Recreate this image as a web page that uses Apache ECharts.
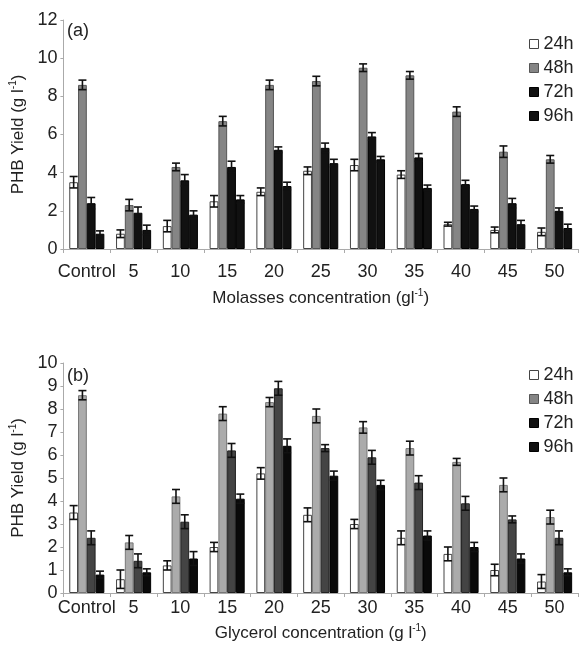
<!DOCTYPE html>
<html>
<head>
<meta charset="utf-8">
<script src="https://cdn.jsdelivr.net/npm/echarts@6/dist/echarts.min.js"></script>
<style>
  html, body { margin: 0; padding: 0; background: #fff; }
  #chart { width: 579px; height: 646px; }
</style>
</head>
<body>
<div id="chart"></div>
<script>
// Concentration levels on the x axis (g/l)
const categories = ['Control', '5', '10', '15', '20', '25', '30', '35', '40', '45', '50'];
const seriesNames = ['24h', '48h', '72h', '96h'];

// (a) PHB yield on molasses, g/l
const molasses24 = [3.5, 0.8, 1.2, 2.5, 3.0, 4.1, 4.4, 3.9, 1.3, 1.0, 0.9];
const molasses48 = [8.6, 2.3, 4.3, 6.7, 8.6, 8.8, 9.5, 9.1, 7.2, 5.1, 4.7];
const molasses72 = [2.4, 1.9, 3.6, 4.3, 5.2, 5.3, 5.9, 4.8, 3.4, 2.4, 2.0];
const molasses96 = [0.8, 1.0, 1.8, 2.6, 3.3, 4.5, 4.7, 3.2, 2.1, 1.3, 1.1];
// (a) standard deviations
const molassesErr24 = [0.3, 0.2, 0.3, 0.3, 0.2, 0.2, 0.3, 0.2, 0.1, 0.15, 0.2];
const molassesErr48 = [0.25, 0.3, 0.2, 0.25, 0.25, 0.25, 0.2, 0.2, 0.25, 0.3, 0.2];
const molassesErr72 = [0.3, 0.3, 0.3, 0.3, 0.15, 0.25, 0.2, 0.2, 0.2, 0.25, 0.15];
const molassesErr96 = [0.15, 0.25, 0.2, 0.2, 0.2, 0.2, 0.15, 0.15, 0.15, 0.2, 0.2];

// (b) PHB yield on glycerol, g/l
const glycerol24 = [3.5, 0.6, 1.2, 2.0, 5.2, 3.4, 3.0, 2.4, 1.7, 1.0, 0.5];
const glycerol48 = [8.6, 2.2, 4.2, 7.8, 8.3, 7.7, 7.2, 6.3, 5.7, 4.7, 3.3];
const glycerol72 = [2.4, 1.4, 3.1, 6.2, 8.9, 6.3, 5.9, 4.8, 3.9, 3.2, 2.4];
const glycerol96 = [0.8, 0.9, 1.5, 4.1, 6.4, 5.1, 4.7, 2.5, 2.0, 1.5, 0.9];
// (b) standard deviations
const glycerolErr24 = [0.3, 0.4, 0.2, 0.2, 0.25, 0.3, 0.2, 0.3, 0.3, 0.25, 0.3];
const glycerolErr48 = [0.2, 0.3, 0.3, 0.3, 0.2, 0.3, 0.25, 0.3, 0.15, 0.3, 0.3];
const glycerolErr72 = [0.3, 0.3, 0.3, 0.3, 0.3, 0.15, 0.3, 0.3, 0.3, 0.15, 0.3];
const glycerolErr96 = [0.15, 0.15, 0.3, 0.2, 0.3, 0.2, 0.2, 0.2, 0.2, 0.2, 0.15];

const FONT = '"Liberation Sans", Arial, sans-serif';
const CAT_GAP = 0.25;   // share of each category left empty

const stylesA = [
  { color: '#ffffff', borderColor: '#444', borderWidth: 1 },
  { color: '#858585', borderColor: '#555', borderWidth: 1 },
  { color: '#111111', borderColor: '#000', borderWidth: 1 },
  { color: '#111111', borderColor: '#000', borderWidth: 1 }
];
const stylesB = [
  { color: '#ffffff', borderColor: '#444', borderWidth: 1 },
  { color: '#ababab', borderColor: '#777', borderWidth: 1 },
  { color: '#444444', borderColor: '#222', borderWidth: 1 },
  { color: '#0a0a0a', borderColor: '#000', borderWidth: 1 }
];
const legendStyles = [
  { color: '#ffffff', borderColor: '#444', borderWidth: 1 },
  { color: '#858585', borderColor: '#555', borderWidth: 1 },
  { color: '#111111', borderColor: '#000', borderWidth: 1 },
  { color: '#111111', borderColor: '#000', borderWidth: 1 }
];

// Error bar drawn over the k-th bar of a group
function errorRenderer(k) {
  return function (params, api) {
    const ci = api.value(0), v = api.value(1), e = api.value(2);
    const c = api.coord([ci, v]);
    const band = api.size([1, 0])[0];
    const group = band * (1 - CAT_GAP);
    const bw = group / 4;
    const x = c[0] - group / 2 + bw * (k + 0.5);
    const yTop = api.coord([ci, v + e])[1];
    const yBot = api.coord([ci, v - e])[1];
    const cap = 4;
    const style = { stroke: '#111', lineWidth: 1.6 };
    return {
      type: 'group',
      children: [
        { type: 'line', shape: { x1: x, y1: yTop, x2: x, y2: yBot }, style: style },
        { type: 'line', shape: { x1: x - cap, y1: yTop, x2: x + cap, y2: yTop }, style: style },
        { type: 'line', shape: { x1: x - cap, y1: yBot, x2: x + cap, y2: yBot }, style: style }
      ]
    };
  };
}

function panelSeries(values, errs, styles, axisIdx) {
  const out = [];
  values.forEach(function (vals, k) {
    out.push({
      type: 'bar', name: seriesNames[k],
      xAxisIndex: axisIdx, yAxisIndex: axisIdx,
      data: vals,
      barGap: '0%', barCategoryGap: (CAT_GAP * 100) + '%',
      itemStyle: styles[k],
      emphasis: { disabled: true }
    });
  });
  values.forEach(function (vals, k) {
    out.push({
      type: 'custom',
      xAxisIndex: axisIdx, yAxisIndex: axisIdx,
      renderItem: errorRenderer(k),
      encode: { x: 0, y: 1 },
      data: vals.map(function (v, i) { return [i, v, errs[k][i]]; }),
      z: 5, silent: true
    });
  });
  return out;
}

const richUnits = {
  b: { fontFamily: FONT, fontSize: 17, color: '#222', lineHeight: 20 },
  sup: { fontFamily: FONT, fontSize: 10, color: '#222', lineHeight: 20, verticalAlign: 'top' }
};

function xAxisCfg(gridIndex, name, margin, nameGap) {
  return {
    type: 'category', gridIndex: gridIndex, data: categories,
    axisLine: { lineStyle: { color: '#aaa', width: 1 } },
    axisTick: { show: true, length: 4, lineStyle: { color: '#aaa' } },
    axisLabel: { fontFamily: FONT, fontSize: 18, color: '#222', margin: margin, interval: 0 },
    name: name, nameLocation: 'middle', nameGap: nameGap,
    nameTextStyle: { fontFamily: FONT, fontSize: 17, color: '#222', rich: richUnits }
  };
}

function yAxisCfg(gridIndex, max, interval) {
  return {
    type: 'value', gridIndex: gridIndex, min: 0, max: max, interval: interval,
    splitLine: { show: false },
    axisLine: { show: true, lineStyle: { color: '#aaa', width: 1 } },
    axisTick: { show: true, length: 3, lineStyle: { color: '#aaa' } },
    axisLabel: { fontFamily: FONT, fontSize: 18, color: '#222', margin: 6 },
    name: '{b|PHB Yield (g l}{sup|-1}{b|)}', nameLocation: 'middle', nameGap: 25,
    nameTextStyle: { fontFamily: FONT, fontSize: 17, color: '#222', rich: richUnits }
  };
}

function legendCfg(top) {
  return {
    orient: 'vertical', left: 529, top: top, padding: 0,
    itemWidth: 9, itemHeight: 9, itemGap: 6, icon: 'rect',
    textStyle: { fontFamily: FONT, fontSize: 18, color: '#222', lineHeight: 18 },
    selectedMode: false,
    data: seriesNames.map(function (n, k) { return { name: n, itemStyle: legendStyles[k] }; })
  };
}

const chart = echarts.init(document.getElementById('chart'), null, { renderer: 'canvas' });
chart.setOption({
  animation: false,
  backgroundColor: '#ffffff',
  title: [
    { text: '(a)', left: 67, top: 22, textStyle: { fontFamily: FONT, fontSize: 18, fontWeight: 'normal', color: '#222' }, padding: 0 },
    { text: '(b)', left: 67, top: 367, textStyle: { fontFamily: FONT, fontSize: 18, fontWeight: 'normal', color: '#222' }, padding: 0 }
  ],
  legend: [legendCfg(35), legendCfg(366)],
  grid: [
    { left: 61, right: 1, top: 20, bottom: 397, containLabel: false },
    { left: 61, right: 1, top: 363, bottom: 53, containLabel: false }
  ],
  xAxis: [
    xAxisCfg(0, '{b|Molasses concentration (gl}{sup|-1}{b|)}', 14, 39),
    xAxisCfg(1, '{b|Glycerol concentration (g l}{sup|-1}{b|)}', 6, 30)
  ],
  yAxis: [yAxisCfg(0, 12, 2), yAxisCfg(1, 10, 1)],
  series: [].concat(
    panelSeries([molasses24, molasses48, molasses72, molasses96],
                [molassesErr24, molassesErr48, molassesErr72, molassesErr96], stylesA, 0),
    panelSeries([glycerol24, glycerol48, glycerol72, glycerol96],
                [glycerolErr24, glycerolErr48, glycerolErr72, glycerolErr96], stylesB, 1)
  )
});
</script>
</body>
</html>
